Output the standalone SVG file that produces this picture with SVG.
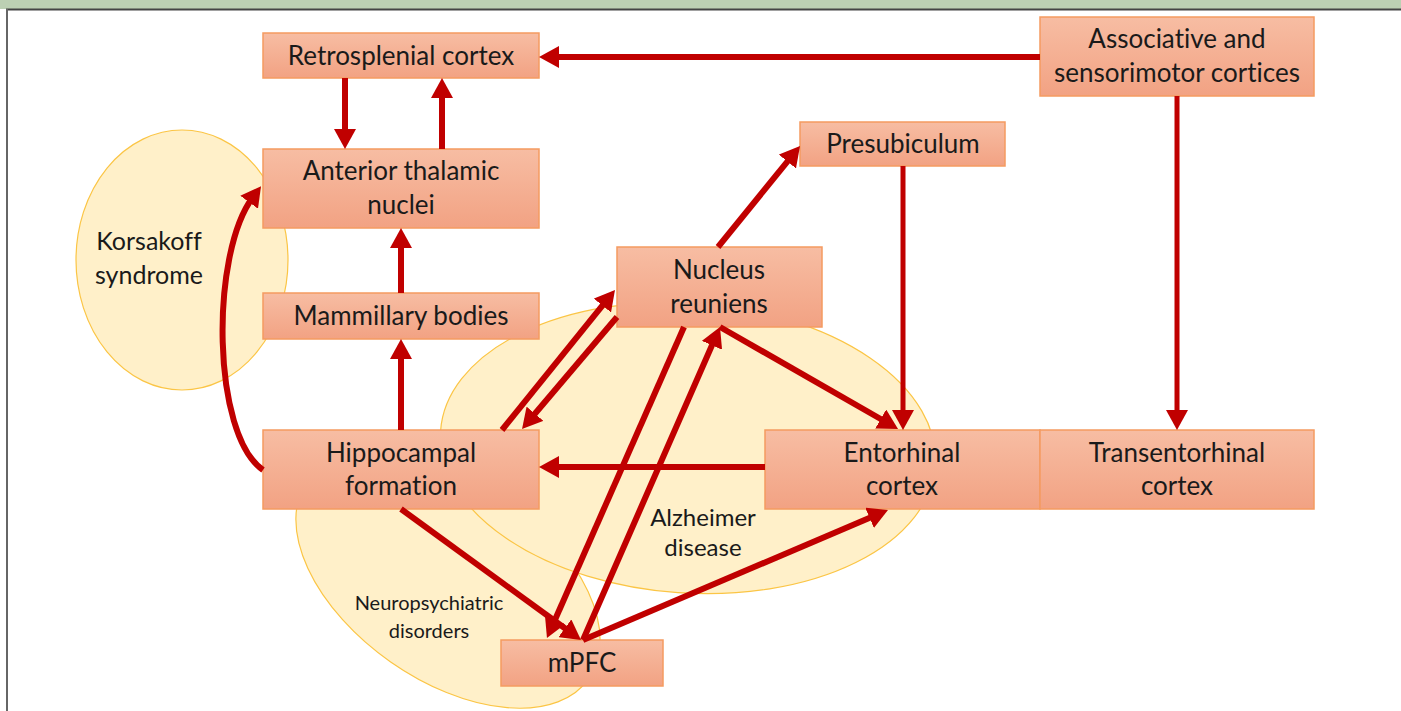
<svg xmlns="http://www.w3.org/2000/svg" width="1401" height="711" viewBox="0 0 1401 711">
<style>
.box{fill:url(#bg);stroke:#f59b60;stroke-width:1.5}
.t{font-family:Lato,"Open Sans","Liberation Sans",sans-serif;font-size:26px;fill:#1a1a1a;text-anchor:middle;font-variant-ligatures:none;font-feature-settings:"liga" 0}
.s{font-size:25px}
.a{font-size:24px}
.xs{font-size:20px}
.ell{fill:#fff0c9;stroke:#fbc545;stroke-width:1.2}
.c{fill:none;stroke:#c00000;stroke-width:6;marker-end:url(#ah)}
</style>
<defs>
<linearGradient id="bg" x1="0" y1="0" x2="0" y2="1">
<stop offset="0" stop-color="#f7bda3"/>
<stop offset="1" stop-color="#f2a283"/>
</linearGradient>
<marker id="ah" markerUnits="userSpaceOnUse" markerWidth="20" markerHeight="22" refX="6" refY="11" orient="auto">
<path d="M0,0 L20,11 L0,22 z" fill="#c00000"/>
</marker>
</defs>
<rect x="0" y="0" width="1401" height="711" fill="#ffffff"/>
<rect x="0" y="0" width="1401" height="9" fill="#bcd0b3"/>
<line x1="6" y1="9.5" x2="1401" y2="9.5" stroke="#444" stroke-width="2"/>
<line x1="7" y1="9" x2="7" y2="711" stroke="#666" stroke-width="2"/>

<g id="ellipses">
<ellipse id="neuropsychiatric" class="ell" cx="448" cy="580" rx="172" ry="100" transform="rotate(35 448 580)"/>
<ellipse id="alzheimer" class="ell" cx="688" cy="448" rx="248" ry="145" transform="rotate(4 688 448)"/>
<ellipse id="korsakoff" class="ell" cx="182" cy="260" rx="106" ry="130"/>
<text class="t s" x="149" y="250">Korsakoff</text>
<text class="t s" x="149" y="284">syndrome</text>
<text class="t a" x="703" y="526">Alzheimer</text>
<text class="t a" x="703" y="556">disease</text>
<text class="t xs" x="429" y="610">Neuropsychiatric</text>
<text class="t xs" x="429" y="638">disorders</text>
</g>

<g id="n-retro"><rect class="box" x="263" y="33" width="276" height="45"/><text class="t" x="401" y="65">Retrosplenial cortex</text></g>
<g id="n-assoc"><rect class="box" x="1040" y="17" width="274" height="79"/><text class="t" x="1177" y="48">Associative and</text><text class="t" x="1177" y="82">sensorimotor cortices</text></g>
<g id="n-atn"><rect class="box" x="263" y="149" width="276" height="79"/><text class="t" x="401" y="180">Anterior thalamic</text><text class="t" x="401" y="214">nuclei</text></g>
<g id="n-presub"><rect class="box" x="800" y="122" width="205" height="44"/><text class="t" x="903" y="153">Presubiculum</text></g>
<g id="n-nr"><rect class="box" x="617" y="247" width="205" height="80"/><text class="t" x="719" y="279">Nucleus</text><text class="t" x="719" y="313">reuniens</text></g>
<g id="n-mb"><rect class="box" x="263" y="293" width="276" height="46"/><text class="t" x="401" y="325">Mammillary bodies</text></g>
<g id="n-hf"><rect class="box" x="263" y="430" width="276" height="79"/><text class="t" x="401" y="462">Hippocampal</text><text class="t" x="401" y="495">formation</text></g>
<g id="n-ec"><rect class="box" x="765" y="430" width="275" height="79"/><text class="t" x="902" y="462">Entorhinal</text><text class="t" x="902" y="495">cortex</text></g>
<g id="n-tec"><rect class="box" x="1040" y="430" width="274" height="79"/><text class="t" x="1177" y="462">Transentorhinal</text><text class="t" x="1177" y="495">cortex</text></g>
<g id="n-mpfc"><rect class="box" x="501" y="640" width="162" height="46"/><text class="t" x="582" y="672">mPFC</text></g>

<g id="connectors">
<path class="c" d="M1040,57 L553,57"/>
<path class="c" d="M1177,96 L1177,416" style="stroke-width:5"/>
<path class="c" d="M345,78 L345,135"/>
<path class="c" d="M442,149 L442,92"/>
<path class="c" d="M401,293 L401,242"/>
<path class="c" d="M401,430 L401,353"/>
<path class="c" d="M263,470 C212,435 210,255 252.7,197.4"/>
<path class="c" d="M903,166 L903,416" style="stroke-width:5"/>
<path class="c" d="M718,247 L791.2,156.9"/>
<path class="c" d="M720,327 L885.9,422"/>
<path class="c" d="M765,467 L553,467"/>
<path class="c" d="M502,430 L606.2,300.9"/>
<path class="c" d="M617,317 L531.1,418.3"/>
<path class="c" d="M401,509 L569.7,631.8"/>
<path class="c" d="M684,327 L552.6,625.2"/>
<path class="c" d="M583,640 L714.4,339.8"/>
<path class="c" d="M583,640 L875.1,515.5"/>
</g>
</svg>
